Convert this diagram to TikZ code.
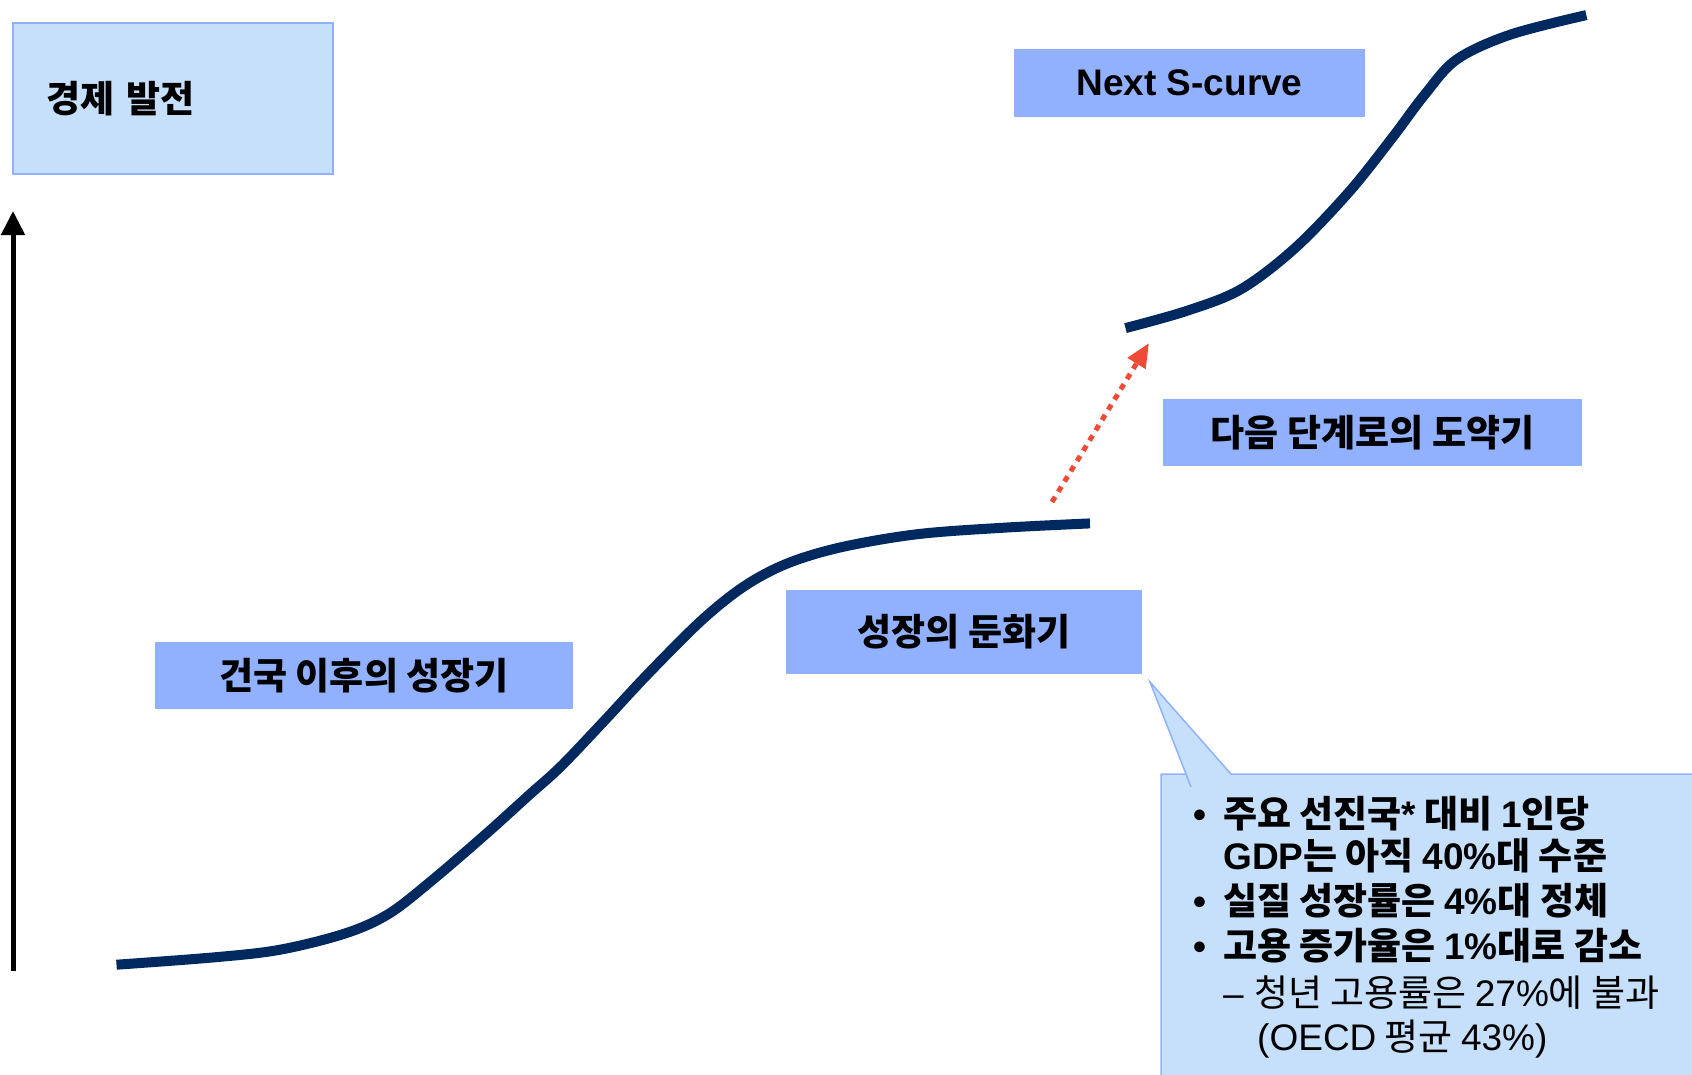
\documentclass[tikz,border=0pt]{standalone}
\usepackage{fontspec}
\setmainfont{Noto Sans CJK KR}
\newfontfamily\latinfont{Liberation Sans}
\usetikzlibrary{arrows.meta}
\definecolor{navy}{RGB}{0,41,96}
\definecolor{lightbox}{RGB}{198,224,251}
\definecolor{boxedge}{RGB}{145,177,255}
\definecolor{labelfill}{RGB}{145,177,255}
\definecolor{arrowred}{RGB}{239,75,54}
\newcommand\latn[1]{{\latinfont #1}}
\newcommand\bul{\makebox[30pt][l]{\latn{•}}}
\begin{document}
\begin{tikzpicture}[x=1pt,y=-1pt,
  labelbox/.style={fill=labelfill, inner sep=0pt, font=\fontsize{37}{44}\selectfont\bfseries},
  scurve/.style={draw=navy, line width=10pt},
  ctext/.style={anchor=base west, inner sep=0pt, font=\fontsize{37}{44}\selectfont\bfseries},
  ctextreg/.style={anchor=base west, inner sep=0pt, font=\fontsize{37}{44}\selectfont},
  ]
\fill[white] (0,0) rectangle (1692,1074);
\useasboundingbox (0,0) rectangle (1692,1074);

% title box
\node (title) [draw=boxedge, line width=2pt, fill=lightbox, minimum width=320pt,
  minimum height=151pt, text width=254pt, align=left, inner xsep=33pt, inner ysep=0pt,
  font=\fontsize{37}{44}\selectfont\bfseries] at (173,98.5) {경제 발전};

% vertical axis
\coordinate (axisbot) at (13,971);
\coordinate (axistop) at (13,211);
\draw[line width=5pt, -{Triangle[length=24pt,width=23pt]}] (axisbot) -- (axistop);

% lower S-curve
\draw[scurve] plot[smooth, tension=0.55] coordinates {
  (116.5,964.7) (215.8,957.2) (280.6,949.6) (345.3,933.4) (388.5,914.0)
  (431.6,880.7) (485.6,834.3) (528.8,795.3) (561.1,766.2) (604.3,720.8)
  (647.5,674.4) (701.4,620.5) (744.6,586.0) (787.7,563.3) (841.7,547.1)
  (917.2,534.2) (1003.6,527.7) (1089.9,523.4)};

% upper S-curve
\draw[scurve] plot[smooth, tension=0.55] coordinates {
  (1125.5,328.1) (1187,310.8) (1241,289.2) (1294.9,248.2) (1348.9,192.1)
  (1392,138.1) (1424.4,95) (1456.8,59.4) (1510.7,34.5) (1586.3,15.1)};

% dotted red arrow
\coordinate (dotA) at (1052,502);
\coordinate (dotB) at (1149,343);
\draw[arrowred, line width=5pt, dash pattern=on 6pt off 6pt,
  -{Triangle[length=24pt,width=20pt]}] (dotA) -- (dotB);

% labels
\node (nextlbl) [labelbox, minimum width=351pt, minimum height=68pt] at (1189.5,83)
  {\latinfont Next S-curve};
\node (jumplbl) [labelbox, minimum width=419pt, minimum height=67pt] at (1372.5,432.5)
  {다음 단계로의 도약기};
\node (slowlbl) [labelbox, minimum width=356pt, minimum height=84pt] at (964,632)
  {성장의 둔화기};
\node (growlbl) [labelbox, minimum width=418pt, minimum height=67pt] at (364,675.5)
  {건국 이후의 성장기};

% callout
\path[fill=lightbox, draw=boxedge, line width=1.5pt]
  (1710,774) -- (1231,774) -- (1150,682) -- (1186,774) -- (1161,774)
  -- (1161,1085) -- (1710,1085) -- cycle;
\draw[boxedge, line width=1.5pt] (1186,774) -- (1191,787);

\node (c1) [ctext] at (1193,827) {\bul 주요 선진국\latn{*} 대비 \latn{1}인당};
\node (c2) [ctext] at (1223,869) {\latn{GDP}는 아직 \latn{40\%}대 수준};
\node (c3) [ctext] at (1193,914) {\bul 실질 성장률은 \latn{4\%}대 정체};
\node (c4) [ctext] at (1193,959) {\bul 고용 증가율은 \latn{1\%}대로 감소};
\node (c5) [ctextreg] at (1223,1006) {\latn{– }청년 고용률은 \latn{27\%}에 불과};
\node (c6) [ctextreg] at (1257,1050) {\latn{(OECD} 평균 \latn{43\%)}};
\end{tikzpicture}
\end{document}
